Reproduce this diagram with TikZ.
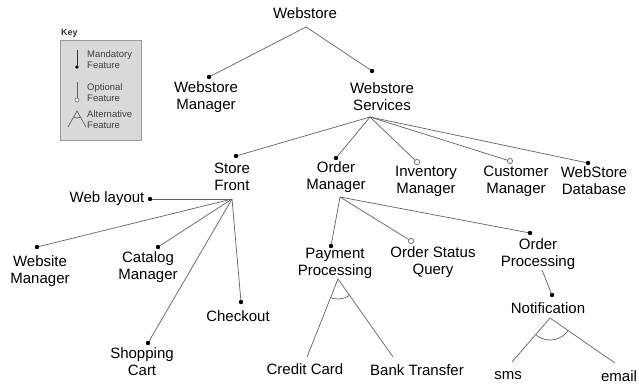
\documentclass[tikz,border=0pt]{standalone}
\usepackage{fontspec}
\setmainfont{Liberation Sans}
\begin{document}
\begin{tikzpicture}[x=1pt,y=-1pt,
  lbl/.style={align=center,font=\fontsize{15}{17}\selectfont,inner sep=0pt},
  keytxt/.style={align=left,anchor=west,font=\fontsize{9.5}{10.8}\selectfont,text=black!75,inner sep=0pt},
  conn/.style={draw=black!62,line width=0.7pt},
  mand/.style={circle,fill=black,inner sep=0pt,minimum size=4.2pt},
  opt/.style={circle,draw=black!60,fill=white,line width=0.6pt,inner sep=0pt,minimum size=5pt}]
\useasboundingbox (0,0) rectangle (639,385);
% key
\node[draw=black!40,fill=black!15,line width=0.8pt,minimum width=81pt,minimum height=100pt,inner sep=0pt] (keybox) at (100.5,90) {};
\node[anchor=west,font=\fontsize{9}{10}\selectfont\bfseries,text=black!80,inner sep=0pt] (keylbl) at (61,33) {Key};
\coordinate (k1t) at (77,50);
\node[mand,minimum size=3.6pt] (k1d) at (77,67) {};
\draw[conn,draw=black!80] (k1t) -- (k1d);
\node[keytxt] (k1x) at (87,59.5) {Mandatory\\Feature};
\coordinate (k2t) at (77,82);
\node[opt,minimum size=4pt] (k2d) at (77,100) {};
\draw[conn] (k2t) -- (k2d);
\node[keytxt] (k2x) at (87,93) {Optional\\Feature};
\coordinate (k3a) at (77,111);
\coordinate (k3l) at (68,127);
\coordinate (k3r) at (86,127);
\draw[conn] (k3l) -- (k3a) -- (k3r);
\begin{scope}\clip (k3a) -- (k3l) -- (k3r) -- cycle; \draw[conn] (k3a) circle (7pt);\end{scope}
\node[keytxt] (k3x) at (87,119.5) {Alternative\\Feature};
% labels
\node[lbl] (ws) at (305,13) {Webstore};
\node[lbl] (wsm) at (206,97) {Webstore\\Manager};
\node[lbl] (wss) at (382,97) {Webstore\\Services};
\node[lbl] (sf) at (232,177) {Store\\Front};
\node[lbl] (om) at (336,177) {Order\\Manager};
\node[lbl] (im) at (426,181) {Inventory\\Manager};
\node[lbl] (cm) at (516,181) {Customer\\Manager};
\node[lbl] (db) at (594,181) {WebStore\\Database};
\node[lbl] (wl) at (107,199) {Web layout};
\node[lbl] (webm) at (40,271) {Website\\Manager};
\node[lbl] (catm) at (148,267) {Catalog\\Manager};
\node[lbl] (chk) at (238,316) {Checkout};
\node[lbl] (cart) at (142,362) {Shopping\\Cart};
\node[lbl] (pp) at (335,263) {Payment\\Processing};
\node[lbl] (osq) at (433,262) {Order Status\\Query};
\node[lbl] (op) at (538,254) {Order\\Processing};
\node[lbl] (nt) at (548,308) {Notification};
\node[lbl] (cc) at (305,369) {Credit Card};
\node[lbl] (bt) at (417,370) {Bank Transfer};
\node[lbl] (sms) at (508,376) {sms};
\node[lbl] (em) at (619,376) {email};
% attachment points
\coordinate (aws) at (306,27);
\coordinate (awss) at (370,117);
\coordinate (asf) at (232,199);
\coordinate (aom) at (340,197);
\coordinate (aop) at (542,270);
\coordinate (app) at (338,279);
\coordinate (acc) at (307,357);
\coordinate (abt) at (393,357);
\coordinate (ant) at (550,318);
\coordinate (asms) at (512,362);
\coordinate (aem) at (615,363);
% dots
\node[mand] (dwsm) at (209,77) {};
\node[mand] (dwss) at (372,71) {};
\node[mand] (dsf) at (236,156) {};
\node[mand] (dom) at (336,158) {};
\node[opt] (oim) at (417,162) {};
\node[opt] (ocm) at (510,161) {};
\node[mand] (ddb) at (588,163) {};
\node[mand] (dwl) at (150,199) {};
\node[mand] (dwebm) at (37,247) {};
\node[mand] (dcatm) at (158,247) {};
\node[mand] (dcart) at (148,343) {};
\node[mand] (dchk) at (241,302) {};
\node[mand] (dpp) at (331,246) {};
\node[opt] (oosq) at (411,241) {};
\node[mand] (dop) at (530,233) {};
\node[mand] (dnt) at (552,295) {};
% connectors
\begin{scope}[on background layer/.style={}]
\foreach \t in {dwsm,dwss} \draw[conn] (aws) -- (\t.center);
\foreach \t in {dsf,dom,oim,ocm,ddb} \draw[conn] (awss) -- (\t.center);
\foreach \t in {dwl,dwebm,dcatm,dcart,dchk} \draw[conn] (asf) -- (\t.center);
\foreach \t in {dpp,oosq,dop} \draw[conn] (aom) -- (\t.center);
\draw[conn] (aop) -- (dnt.center);
\end{scope}
% dots on top of lines
\foreach \n in {dwsm,dwss,dsf,dom,ddb,dwl,dwebm,dcatm,dcart,dchk,dpp,dop,dnt} \fill (\n.center) circle (2.1pt);
\foreach \n in {oim,ocm,oosq} \draw[draw=black!60,fill=white,line width=0.6pt] (\n.center) circle (2.5pt);
% alternatives
\draw[conn] (acc) -- (app) -- (abt);
\begin{scope}\clip (app) -- (acc) -- (abt) -- cycle; \draw[conn] (app) circle (20pt);\end{scope}
\draw[conn] (asms) -- (ant) -- (aem);
\begin{scope}\clip (ant) -- (asms) -- (aem) -- cycle; \draw[conn] (ant) circle (22pt);\end{scope}
\end{tikzpicture}
\end{document}
